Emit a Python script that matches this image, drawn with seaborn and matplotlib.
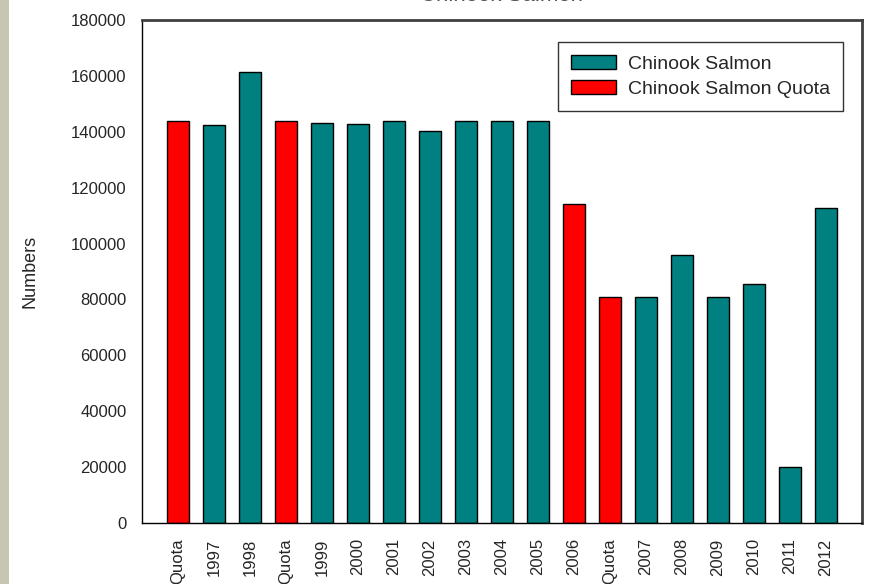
import pandas as pd
import numpy as np
import matplotlib
matplotlib.use("Agg")
import matplotlib.pyplot as plt
import seaborn as sns
from matplotlib.patches import Rectangle

# values
labels = ["Quota", "1997", "1998", "Quota", "1999", "2000", "2001", "2002", "2003", "2004",
          "2005", "2006", "Quota", "2007", "2008", "2009", "2010", "2011", "2012"]
values = [144000, 142500, 161500, 144000, 143000, 142800, 144000, 140300, 144000, 144000,
          144000, 114000, 81000, 81000, 96000, 81000, 85700, 20000, 112600]
series = ["Chinook Salmon Quota", "Chinook Salmon", "Chinook Salmon", "Chinook Salmon Quota",
          "Chinook Salmon", "Chinook Salmon", "Chinook Salmon", "Chinook Salmon", "Chinook Salmon",
          "Chinook Salmon", "Chinook Salmon", "Chinook Salmon Quota", "Chinook Salmon Quota",
          "Chinook Salmon", "Chinook Salmon", "Chinook Salmon", "Chinook Salmon", "Chinook Salmon",
          "Chinook Salmon"]
colors = {"Chinook Salmon": "#008080", "Chinook Salmon Quota": "#ff0000"}

df = pd.DataFrame({"pos": range(len(labels)), "value": values, "series": series})

sns.set_style("white")
plt.rcParams['font.family'] = ['Liberation Sans', 'DejaVu Sans']

fig = plt.figure(figsize=(8.69, 5.84), dpi=100)
ax = fig.add_axes([142 / 869, 1 - 523 / 584, 720 / 869, 503 / 584])

# textured strip on the left edge
fig.patches.append(Rectangle((0, 0), 9 / 869, 1, transform=fig.transFigure,
                             facecolor="#c9c5b3", edgecolor="none"))

sns.barplot(data=df, x="pos", y="value", hue="series", palette=colors,
            hue_order=["Chinook Salmon", "Chinook Salmon Quota"], saturation=1,
            dodge=False, width=0.61, edgecolor="black", linewidth=1, ax=ax)

ax.set_xlim(-1, len(labels))
ax.set_ylim(0, 180000)
ax.set_yticks(np.arange(0, 180001, 20000))
ax.set_yticklabels([str(v) for v in range(0, 180001, 20000)], fontsize=12)
ax.set_xticks(range(len(labels)))
ax.set_xticklabels(labels, rotation=90, fontsize=12)
ax.tick_params(axis="both", direction="out", length=7, width=1, color="black", pad=4)
ax.set_xlabel("")
ax.set_ylabel("Numbers", fontsize=13)
ax.yaxis.set_label_coords((38 - 142) / 720, 0.5)

for side in ["left", "bottom"]:
    ax.spines[side].set_color("black")
    ax.spines[side].set_linewidth(1)
for side in ["top", "right"]:
    ax.spines[side].set_color("#404040")
    ax.spines[side].set_linewidth(2)

handles, names = ax.get_legend_handles_labels()
leg = ax.legend(handles, names, loc="upper right", bbox_to_anchor=(0.974, 0.957),
                borderaxespad=0, fontsize=14, frameon=True, fancybox=False,
                edgecolor="black", borderpad=0.7, labelspacing=0.35,
                handlelength=2.3, handleheight=0.75, handletextpad=0.6)
leg.get_frame().set_linewidth(1)

# title is cut off at the top in the original, only its bottom edge shows
fig.text(502 / 869, 1 - 1 / 584, "Chinook Salmon", ha="center", va="baseline",
         fontsize=16, color="#555555")

fig.savefig("out.png", dpi=100)
